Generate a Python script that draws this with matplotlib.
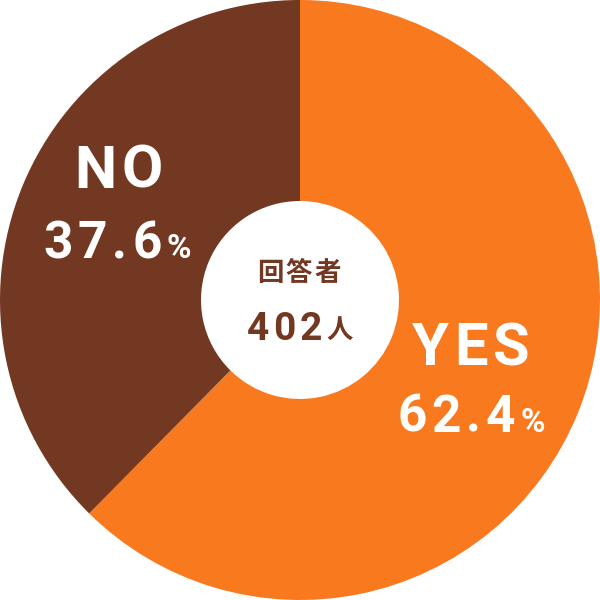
import matplotlib.pyplot as plt

labels = ['YES', 'NO']
values = [62.4, 37.6]
colors = ['#F9791E', '#733822']
total = 402

plt.rcParams['font.family'] = ['Roboto', 'Noto Sans CJK JP', 'DejaVu Sans']

fig = plt.figure(figsize=(6, 6), dpi=100)
ax = fig.add_axes([0, 0, 1, 1])
ax.pie(values, colors=colors, startangle=90, counterclock=False, radius=1.0,
       wedgeprops=dict(width=0.67, linewidth=0))
ax.set_xlim(-1, 1)
ax.set_ylim(-1, 1)
ax.set_aspect('equal')
ax.axis('off')

r = fig.canvas.get_renderer()

# letter-spaced text; parts = [(string, fontsize, family, dy)], x,y in pixels from top-left
def spaced(x, y, parts, color, track, ha='center'):
    items = []
    for s, size, fam, dy in parts:
        for ch in s:
            t = fig.text(0, 0, ch, fontsize=size, fontweight='bold', color=color,
                         family=fam, ha='left', va='baseline')
            w = t.get_window_extent(r).width
            items.append((t, w, dy))
    total_w = sum(w for _, w, _ in items) + track * (len(items) - 1)
    cx = x - total_w / 2 if ha == 'center' else x
    for t, w, dy in items:
        t.set_position((cx / 600.0, (600 - y - dy) / 600.0))
        cx += w + track

rob = ['Roboto']
cjk = ['Noto Sans CJK JP']
spaced(471, 365, [(labels[0], 43, rob, 0)], 'white', 5)
spaced(118, 188, [(labels[1], 43, rob, 0)], 'white', 5)
spaced(471, 432, [(f'{values[0]}', 37, rob, 0), ('%', 24, rob, 0)], 'white', 5)
spaced(117, 258, [(f'{values[1]}', 37, rob, 0), ('%', 24, rob, 0)], 'white', 5)

brown = '#733822'
spaced(299, 281, [('回答者', 19, cjk, 0)], brown, 2)
spaced(300, 340, [(f'{total}', 28, rob, 0), ('人', 19, cjk, -2)], brown, 4)

fig.savefig('out.png', dpi=100)
